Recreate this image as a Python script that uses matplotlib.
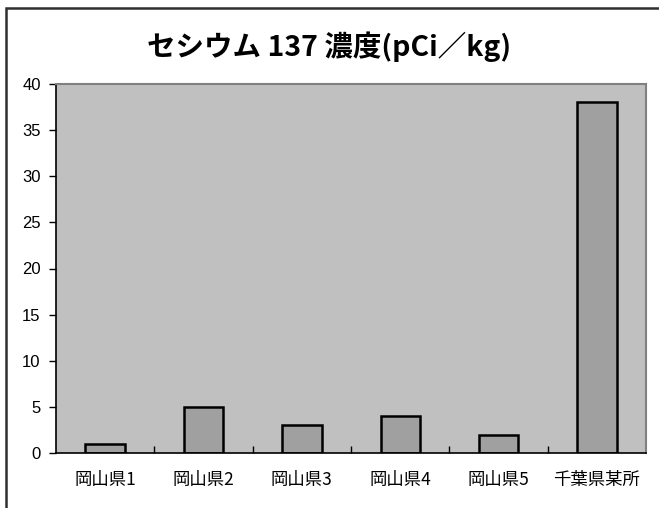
import matplotlib.pyplot as plt
import matplotlib.patches as mpatches
import numpy as np

plt.rcParams['font.family'] = ['Noto Sans CJK JP', 'DejaVu Sans']

# 測定地点と濃度
places = ['岡山県1', '岡山県2', '岡山県3', '岡山県4', '岡山県5', '千葉県某所']
cs137 = [1, 5, 3, 4, 2, 38]
yticks = [0, 5, 10, 15, 20, 25, 30, 35, 40]

fig = plt.figure(figsize=(6.59, 5.08), dpi=100)
fig.patch.set_facecolor('white')

# 外枠（右・下は画像の外まで）
fig.add_artist(mpatches.Rectangle((6 / 659, -10 / 508), 670 / 659, 510 / 508,
                                  transform=fig.transFigure, fill=False,
                                  edgecolor='#303030', linewidth=1.8))

ax = fig.add_axes([56 / 659, 55 / 508, 590 / 659, 369 / 508])
ax.set_facecolor('#C0C0C0')

x = np.arange(len(places))
ax.bar(x, cs137, width=0.4, color='#A0A0A0', edgecolor='black', linewidth=1.8)

ax.set_xlim(-0.5, len(places) - 0.5)
ax.set_ylim(0, 40)
ax.set_yticks(yticks)
ax.set_yticklabels([str(v) for v in yticks], fontsize=12, family='Liberation Sans')
ax.tick_params(axis='y', direction='out', length=5, width=1, pad=6)

# カテゴリ境界の目盛り（内向き）
ax.set_xticks(x)
ax.set_xticklabels(places, fontsize=12.5)
ax.tick_params(axis='x', length=0, pad=13)
ax.set_xticks(np.arange(0.5, len(places) - 0.5, 1), minor=True)
ax.tick_params(axis='x', which='minor', direction='in', length=5, width=1)

for side in ['left', 'bottom']:
    ax.spines[side].set_color('black')
    ax.spines[side].set_linewidth(1.2)
for side in ['top', 'right']:
    ax.spines[side].set_color('#808080')
    ax.spines[side].set_linewidth(1.5)

fig.text(0.5, 461 / 508, 'セシウム 137 濃度(pCi／kg)', ha='center', va='center',
         fontsize=20.5, fontweight='bold')

fig.savefig('out.png', dpi=100)
